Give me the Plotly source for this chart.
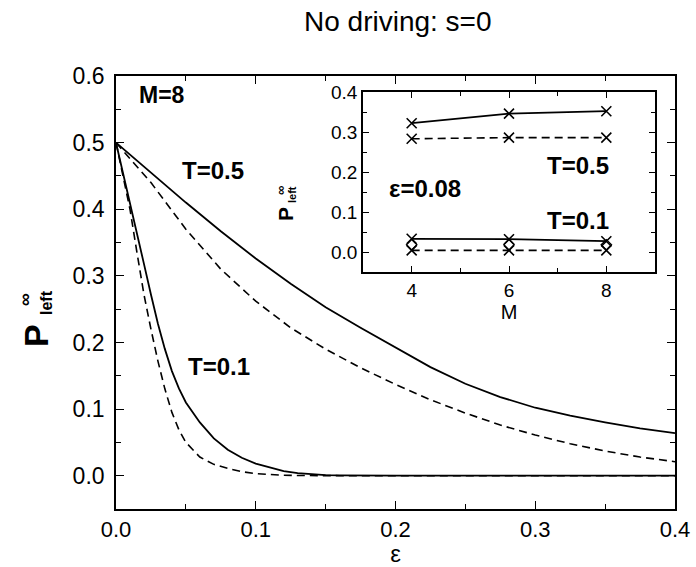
import plotly.graph_objects as go

# ---------------- data ----------------
eps_T05 = [0.0, 0.025, 0.05, 0.075, 0.1, 0.125, 0.15, 0.175, 0.2, 0.225, 0.25,
           0.275, 0.3, 0.325, 0.35, 0.375, 0.4]
P_T05_solid = [0.5, 0.455, 0.41, 0.367, 0.326, 0.288, 0.253, 0.222, 0.192, 0.163,
               0.138, 0.118, 0.102, 0.09, 0.08, 0.071, 0.064]
P_T05_dashed = [0.5, 0.44, 0.37, 0.31, 0.262, 0.222, 0.19, 0.162, 0.137, 0.114,
                0.094, 0.076, 0.061, 0.048, 0.037, 0.028, 0.021]

eps_T01 = [0.0, 0.005, 0.01, 0.015, 0.02, 0.025, 0.03, 0.035, 0.04, 0.045, 0.05,
           0.06, 0.07, 0.08, 0.09, 0.1, 0.11, 0.12, 0.13, 0.14, 0.15, 0.16, 0.2,
           0.3, 0.4]
P_T01_solid = [0.5, 0.455, 0.412, 0.365, 0.318, 0.272, 0.228, 0.19, 0.157, 0.131,
               0.11, 0.08, 0.056, 0.039, 0.027, 0.018, 0.012, 0.007, 0.004, 0.002,
               0.001, 0.0005, 0.0, 0.0, 0.0]
P_T01_dashed = [0.5, 0.45, 0.4, 0.335, 0.272, 0.22, 0.172, 0.13, 0.095, 0.069,
                0.05, 0.028, 0.017, 0.011, 0.006, 0.003, 0.0015, 0.0007, 0.0003,
                0.0001, 0.0, 0.0, 0.0, 0.0, 0.0]

M_vals = [4, 6, 8]
ins_T05_solid = [0.322, 0.346, 0.352]
ins_T05_dashed = [0.283, 0.286, 0.286]
ins_T01_solid = [0.033, 0.032, 0.027]
ins_T01_dashed = [0.004, 0.004, 0.004]
ins_diamond = [0.018, 0.018, 0.018]

main_xticks = [0.0, 0.1, 0.2, 0.3, 0.4]
main_yticks = [0.0, 0.1, 0.2, 0.3, 0.4, 0.5, 0.6]
inset_xticks = [4, 6, 8]
inset_yticks = [0.0, 0.1, 0.2, 0.3, 0.4]

# ---------------- layout geometry ----------------
W, H = 696, 567
L, R, T, B = 116, 675, 76, 509
FONT = "Liberation Sans, Arial, Helvetica, sans-serif"


def px(xp, yp):
    return (xp - L) / (R - L), (B - yp) / (B - T)


ix0, iy0 = px(363, 272)
ix1, iy1 = px(655, 92)

fig = go.Figure()
solid = dict(color="black", width=1.8)
dashed = dict(color="black", width=1.6, dash="8px,5px")

fig.add_trace(go.Scatter(x=eps_T05, y=P_T05_solid, mode="lines", line=solid))
fig.add_trace(go.Scatter(x=eps_T05, y=P_T05_dashed, mode="lines", line=dashed))
fig.add_trace(go.Scatter(x=eps_T01, y=P_T01_solid, mode="lines", line=solid))
fig.add_trace(go.Scatter(x=eps_T01, y=P_T01_dashed, mode="lines", line=dashed))

xm = dict(symbol="x-thin", size=10, line=dict(color="black", width=1.6), color="black")
for ys, ln in [(ins_T05_solid, solid), (ins_T05_dashed, dashed),
               (ins_T01_solid, solid), (ins_T01_dashed, dashed)]:
    fig.add_trace(go.Scatter(x=M_vals, y=ys, mode="lines+markers", line=ln,
                             marker=xm, xaxis="x2", yaxis="y2"))
fig.add_trace(go.Scatter(x=M_vals, y=ins_diamond, mode="markers",
                         marker=dict(symbol="diamond-open", size=8, color="black",
                                     line=dict(color="black", width=1.3)),
                         xaxis="x2", yaxis="y2"))

axis_common = dict(showline=True, linecolor="black", linewidth=1.6, mirror="allticks",
                   ticks="inside", tickcolor="black", tickwidth=1.3,
                   showgrid=False, zeroline=False, automargin=False)

fig.update_layout(
    width=W, height=H,
    margin=dict(l=L, r=W - R, t=T, b=H - B),
    paper_bgcolor="white", plot_bgcolor="white",
    showlegend=False,
    font=dict(family=FONT, color="black"),
    xaxis=dict(range=[0, 0.4], tickvals=main_xticks, tickformat=".1f",
               ticklen=8, tickfont=dict(size=22), ticklabelstandoff=0,
               minor=dict(ticks="inside", dtick=0.05, tick0=0, ticklen=5,
                          tickcolor="black", tickwidth=1.3),
               title=dict(text="ε", font=dict(size=24), standoff=7),
               domain=[0, 1], **axis_common),
    yaxis=dict(range=[-0.05, 0.6], tickvals=main_yticks, tickformat=".1f",
               ticklen=8, tickfont=dict(size=23), ticklabelstandoff=5,
               minor=dict(ticks="inside", dtick=0.05, tick0=0, ticklen=5,
                          tickcolor="black", tickwidth=1.3),
               domain=[0, 1], **axis_common),
    xaxis2=dict(range=[3, 9], tickvals=inset_xticks, ticklen=6,
                tickfont=dict(size=19), anchor="y2", domain=[ix0, ix1],
                minor=dict(ticks="inside", dtick=1, tick0=0, ticklen=4,
                           tickcolor="black", tickwidth=1.2),
                title=dict(text="M", font=dict(size=20), standoff=2),
                **axis_common),
    yaxis2=dict(range=[-0.05, 0.4], tickvals=inset_yticks, tickformat=".1f",
                ticklen=6, tickfont=dict(size=19), anchor="x2", domain=[iy0, iy1],
                minor=dict(ticks="inside", dtick=0.05, tick0=0, ticklen=4,
                           tickcolor="black", tickwidth=1.2),
                **axis_common),
)

anns = []


def add_text(xp, yp, text, size, bold=False, angle=0, family=FONT):
    x, y = px(xp, yp)
    t = f"<b>{text}</b>" if bold else text
    anns.append(dict(x=x, y=y, xref="paper", yref="paper", text=t, showarrow=False,
                     textangle=angle, xanchor="center", yanchor="middle",
                     font=dict(size=size, family=family, color="black")))


add_text(398, 22, "No driving: s=0", 28)
# main y label
add_text(36, 336, "P", 34, bold=True, angle=-90)
add_text(46, 303, "left", 16, bold=True, angle=-90)
add_text(25, 300, "∞", 18, bold=True, angle=-90)
# inset y label
add_text(286, 214, "P", 21, bold=True, angle=-90)
add_text(292, 195, "left", 11, bold=True, angle=-90)
add_text(280, 191, "∞", 13, bold=True, angle=-90)
# in-plot labels
add_text(162, 95, "M=8", 23, bold=True)
add_text(213, 170, "T=0.5", 24, bold=True)
add_text(219, 366, "T=0.1", 24, bold=True)
add_text(578, 165, "T=0.5", 24, bold=True)
add_text(425, 188, "ε=0.08", 24, bold=True)
add_text(578, 220, "T=0.1", 24, bold=True)

fig.update_layout(annotations=anns)
fig.write_html("out.html", config={"displayModeBar": False},
               post_script="document.body.style.margin='0';"
                           "document.body.style.overflow='hidden';")
